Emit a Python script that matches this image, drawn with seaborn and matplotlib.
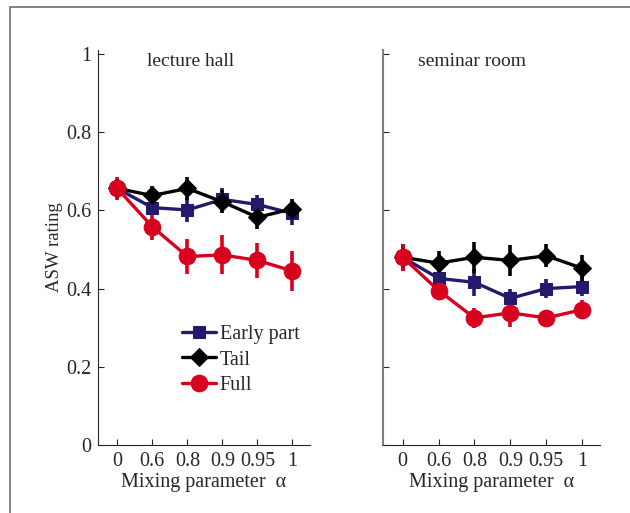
import matplotlib
matplotlib.use("Agg")
import matplotlib.pyplot as plt
import numpy as np
import pandas as pd
import seaborn as sns
from matplotlib.patches import Rectangle

# Mixing parameter categories
alphas = ["0", "0.6", "0.8", "0.9", "0.95", "1"]
conditions = ["Early part", "Tail", "Full"]

# lecture hall
hall_early = [0.656, 0.607, 0.601, 0.628, 0.615, 0.592]
hall_early_err = [0.025, 0.02, 0.03, 0.028, 0.025, 0.03]
hall_tail = [0.656, 0.638, 0.656, 0.622, 0.582, 0.604]
hall_tail_err = [0.025, 0.025, 0.03, 0.03, 0.03, 0.025]
hall_full = [0.656, 0.558, 0.482, 0.486, 0.472, 0.445]
hall_full_err = [0.03, 0.035, 0.045, 0.05, 0.045, 0.05]

# seminar room
room_early = [0.48, 0.426, 0.416, 0.375, 0.40, 0.405]
room_early_err = [0.035, 0.03, 0.035, 0.025, 0.025, 0.025]
room_tail = [0.48, 0.465, 0.48, 0.472, 0.484, 0.452]
room_tail_err = [0.035, 0.03, 0.04, 0.04, 0.03, 0.035]
room_full = [0.48, 0.395, 0.325, 0.338, 0.325, 0.346]
room_full_err = [0.035, 0.025, 0.025, 0.035, 0.02, 0.025]

colors = {"Early part": "#231a6e", "Tail": "#000000", "Full": "#d7001e"}
markers = {"Early part": "s", "Tail": "D", "Full": "o"}
msize = {"Early part": 9, "Tail": 9.5, "Full": 12}


def make_df(early, early_err, tail, tail_err, full, full_err):
    rows = []
    for cond, vals, errs in [("Early part", early, early_err),
                             ("Tail", tail, tail_err),
                             ("Full", full, full_err)]:
        for i, (v, e) in enumerate(zip(vals, errs)):
            rows.append({"pos": i, "alpha": alphas[i], "cond": cond,
                         "rating": v, "err": e})
    return pd.DataFrame(rows)


hall = make_df(hall_early, hall_early_err, hall_tail, hall_tail_err,
               hall_full, hall_full_err)
room = make_df(room_early, room_early_err, room_tail, room_tail_err,
               room_full, room_full_err)

sns.set_style("ticks")
plt.rcParams["font.family"] = ["Liberation Serif", "DejaVu Serif"]

fig = plt.figure(figsize=(6.3, 5.13), dpi=100)
fig.patches.append(Rectangle((10 / 630, -0.1), 1.2, 1 - 7 / 513 + 0.1,
                             transform=fig.transFigure, fill=False,
                             edgecolor="#707070", linewidth=1.2))

ax1 = fig.add_axes([98 / 630, 1 - 445 / 513, 212 / 630, 395 / 513])
ax2 = fig.add_axes([383 / 630, 1 - 445 / 513, 217 / 630, 395 / 513])


def draw(ax, df):
    for cond in conditions:
        sub = df[df["cond"] == cond]
        ax.vlines(sub["pos"], sub["rating"] - sub["err"],
                  sub["rating"] + sub["err"], color=colors[cond], lw=2.6,
                  zorder=2)
    for cond in conditions:
        sub = df[df["cond"] == cond]
        sns.lineplot(data=sub, x="pos", y="rating", ax=ax,
                     color=colors[cond], marker=markers[cond],
                     markersize=msize[cond], markeredgecolor=colors[cond],
                     linewidth=2.4, label=cond, zorder=3)
    ax.set_xlim(-0.55, 5.5)
    ax.set_ylim(0, 1.01)
    ax.set_xticks(range(len(alphas)))
    ax.set_xticklabels(alphas)
    ax.set_yticks([0, 0.2, 0.4, 0.6, 0.8, 1])
    ax.tick_params(direction="in", length=4, labelsize=14.5, pad=5)
    ax.set_xlabel("Mixing parameter  α", fontsize=14.5, labelpad=1.5)
    sns.despine(ax=ax)


draw(ax1, hall)
draw(ax2, room)

ax1.set_yticklabels(["0", "0.2", "0.4", "0.6", "0.8", "1"])
ax1.set_ylabel("ASW rating", fontsize=13.5, labelpad=2)
ax2.set_ylabel("")
ax2.set_yticklabels([])
ax2.spines["left"].set_color("#808080")
ax2.spines["left"].set_linewidth(1.5)

ax1.text(0.23, 0.993, "lecture hall", transform=ax1.transAxes,
         fontsize=14, va="top")
ax2.text(0.16, 0.993, "seminar room", transform=ax2.transAxes,
         fontsize=14, va="top")

ax1.legend(loc="lower left", bbox_to_anchor=(0.36, 0.107), frameon=False,
           fontsize=14.5, handlelength=1.65, handletextpad=0.2,
           labelspacing=0.3, borderaxespad=0)
ax2.get_legend().remove()

fig.savefig("out.png", dpi=100)
